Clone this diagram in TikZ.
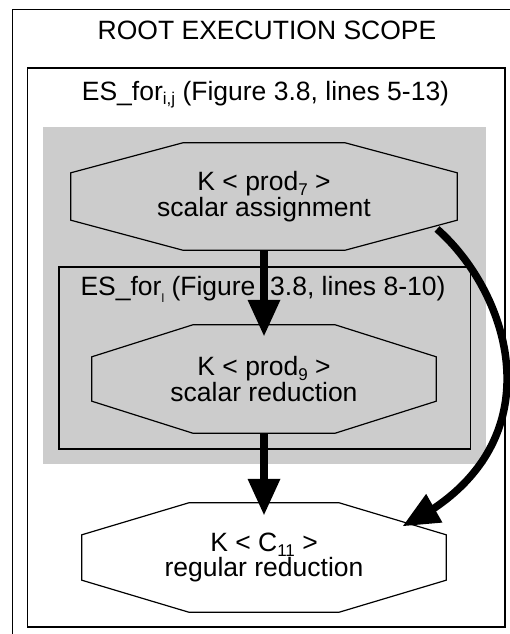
\documentclass[tikz,border=0pt]{standalone}
\usepackage{fontspec}
\setmainfont{Liberation Sans}
\usetikzlibrary{arrows.meta,bending}
\definecolor{scopegray}{RGB}{204,204,204}
\newcommand\sbx[1]{\raisebox{-0.18em}[0pt][0pt]{\fontsize{17}{17}\selectfont #1}}
\newcommand\tinysb[1]{\raisebox{-0.3em}[0pt][0pt]{\fontsize{12}{12}\selectfont #1}}
\newcommand\mainfs{\fontsize{26.5}{24.5}\selectfont}
\newcommand\octpath[3]{%
  \draw[octline] ([xshift=#2]#1.north west) -- ([xshift=-#2]#1.north east)
    -- ([yshift=-#3]#1.north east) -- ([yshift=#3]#1.south east)
    -- ([xshift=-#2]#1.south east) -- ([xshift=#2]#1.south west)
    -- ([yshift=#3]#1.south west) -- ([yshift=-#3]#1.north west) -- cycle;}
\tikzset{
  boxline/.style={draw=black,line width=1.4pt},
  octline/.style={draw=black,line width=1.2pt,line join=miter},
  lbl/.style={anchor=base,inner sep=0pt,font=\mainfs},
  octnode/.style={inner sep=0pt,align=center,font=\mainfs},
  arr/.style={line width=7.5pt,-{Triangle[length=36pt,width=33pt,line width=0pt]}}
}
\begin{document}
\begin{tikzpicture}[x=1pt,y=-1pt]
\useasboundingbox (0,0) rectangle (510,634);
\clip (0,0) rectangle (510,634);
% scopes
\draw[boxline] (12.5,9.5) rectangle (540,660);
\draw[boxline] (27.5,68) rectangle (505,627);
\fill[scopegray] (43,127) rectangle (486,464);
\draw[boxline] (59,267) rectangle (470.5,449);
% scope labels
\node[lbl] (t0) at (267,40) {ROOT EXECUTION SCOPE};
\node[lbl] (t1) at (265.5,100) {ES\_for\sbx{i,j} (Figure 3.8, lines 5-13)};
\node[lbl] (t2) at (263,295) {ES\_for\tinysb{l} (Figure\ \ 3.8, lines 8-10)};
% octagon nodes
\node[octnode,minimum width=386pt,minimum height=107pt] (o1) at (264,196.5)
  {K < prod\sbx{7} >\\scalar assignment};
\octpath{o1}{112pt}{30pt}
\node[octnode,minimum width=344pt,minimum height=108pt] (o2) at (264,379)
  {K < prod\sbx{9} >\\scalar reduction};
\octpath{o2}{101pt}{32pt}
\node[octnode,minimum width=364pt,minimum height=109pt] (o3) at (264,557.5)
  {K < C\sbx{11} >\\regular reduction};
\octpath{o3}{107pt}{32pt}
% connectors
\draw[arr] (o1.south) -- ([yshift=-11pt]o2.north);
\draw[arr] (o2.south) -- ([yshift=-12pt]o3.north);
\coordinate (cs) at (437,229);
\coordinate (ce) at (403,526);
\draw[arr] (cs) .. controls (512,295) and (560,450) .. (ce);
\end{tikzpicture}
\end{document}
